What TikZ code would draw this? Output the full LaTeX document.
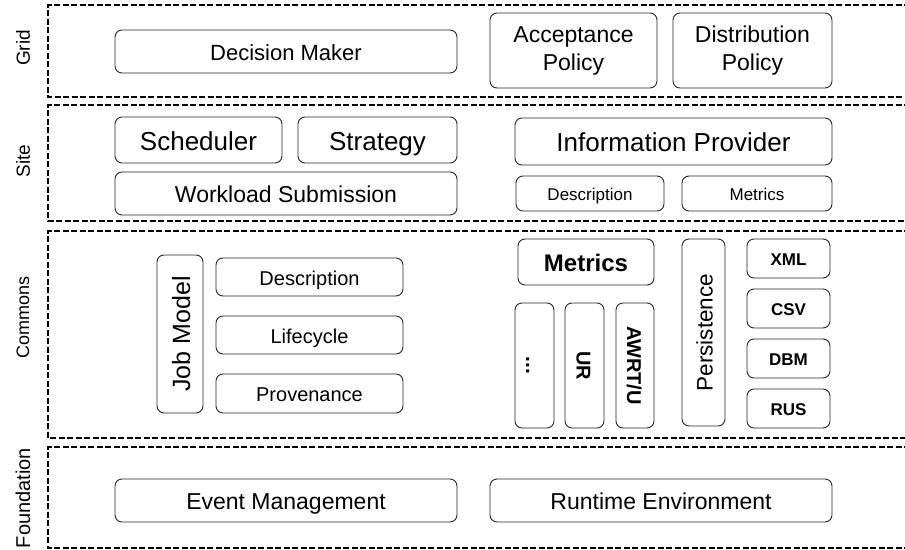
\documentclass[tikz,border=0pt]{standalone}
\usepackage{fontspec}
\setmainfont{Liberation Sans}
\newcommand{\fsz}[2]{\fontsize{#1}{#2}\selectfont}
\begin{document}
\begin{tikzpicture}[x=1pt,y=-1pt,
  basebox/.style={draw=black!85, line width=0.9pt, rounded corners=7pt,
    inner sep=0pt, outer sep=0pt, align=center},
  box/.style={basebox, text height=0.85em, text depth=0.05em},
  twoline/.style={basebox},
  layer/.style={draw=black, line width=1.4pt, dash pattern=on 6pt off 2.5pt},
  lbl/.style={rotate=90, inner sep=0pt}]
\useasboundingbox (0,0) rectangle (905,549);

% layer frames (open to the right)
\draw[layer] (910,5)   -| (48,97)  -- (910,97);
\draw[layer] (910,105) -| (48,221) -- (910,221);
\draw[layer] (910,231) -| (48,438) -- (910,438);
\draw[layer] (910,447) -| (48,548) -- (910,548);

% layer labels
\node[lbl, node font=\fsz{19}{23}] (lgrid)   at (23,48)  {Grid};
\node[lbl, node font=\fsz{19}{23}] (lsite)   at (23,161) {Site};
\node[lbl, node font=\fsz{18}{22}] (lcomm)   at (23,317) {Commons};
\node[lbl, node font=\fsz{20}{24}] (lfound)  at (23,498) {Foundation};

% Grid layer
\node[box, minimum width=342pt, minimum height=43pt, node font=\fsz{22}{26}] (dm) at (286,51.5) {Decision Maker};
\node[twoline, minimum width=167pt, minimum height=75pt, node font=\fsz{23}{28}] (acc) at (573.5,50.5) {Acceptance\\Policy};
\node[twoline, minimum width=159pt, minimum height=75pt, node font=\fsz{23}{28}] (dist) at (752.5,50.5) {Distribution\\Policy};

% Site layer
\node[box, minimum width=167pt, minimum height=46pt, node font=\fsz{26}{30}] (sched) at (198.5,140) {Scheduler};
\node[box, minimum width=159pt, minimum height=46pt, node font=\fsz{26}{30}] (strat) at (377.5,140) {Strategy};
\node[box, minimum width=342pt, minimum height=43pt, node font=\fsz{23}{28}] (wls) at (286,193.5) {Workload Submission};
\node[box, minimum width=317pt, minimum height=47pt, node font=\fsz{26}{30}] (info) at (673.5,141.5) {Information Provider};
\node[box, minimum width=148pt, minimum height=35pt, node font=\fsz{17}{20}] (sdesc) at (590,193.5) {Description};
\node[box, minimum width=150pt, minimum height=35pt, node font=\fsz{17}{20}] (smet) at (757,193.5) {Metrics};

% Commons layer: job model
\node[box, rotate=90, minimum width=158pt, minimum height=46pt, node font=\fsz{25}{30}] (job) at (180,334) {Job Model};
\node[box, minimum width=187pt, minimum height=38pt, node font=\fsz{20}{24}] (cdesc) at (309.5,277) {Description};
\node[box, minimum width=187pt, minimum height=38pt, node font=\fsz{20}{24}] (life) at (309.5,335) {Lifecycle};
\node[box, minimum width=187pt, minimum height=39pt, node font=\fsz{20}{24}] (prov) at (309.5,393.5) {Provenance};

% Commons layer: metrics
\node[box, minimum width=136pt, minimum height=46pt, node font=\fsz{24}{28}\bfseries] (cmet) at (586,262) {Metrics};
\node[box, rotate=-90, minimum width=125pt, minimum height=39pt, node font=\fsz{21}{25}\bfseries] (dots) at (534.5,365.5) {...};
\node[box, rotate=-90, minimum width=125pt, minimum height=39pt, node font=\fsz{20}{24}\bfseries] (ur) at (584.5,365.5) {UR};
\node[box, rotate=-90, minimum width=125pt, minimum height=38pt, node font=\fsz{20}{24}\bfseries] (awrt) at (635,365.5) {AWRT/U};

% Commons layer: persistence
\node[box, rotate=90, minimum width=187pt, minimum height=43pt, node font=\fsz{22.5}{27}] (pers) at (703.5,332.5) {Persistence};
\node[box, minimum width=83pt, minimum height=39pt, node font=\fsz{17}{20}\bfseries] (xml) at (788.5,258.5) {XML};
\node[box, minimum width=83pt, minimum height=39pt, node font=\fsz{17}{20}\bfseries] (csv) at (788.5,308.5) {CSV};
\node[box, minimum width=83pt, minimum height=39pt, node font=\fsz{17}{20}\bfseries] (dbm) at (788.5,358.5) {DBM};
\node[box, minimum width=83pt, minimum height=39pt, node font=\fsz{17}{20}\bfseries] (rus) at (788.5,408.5) {RUS};

% Foundation layer
\node[box, minimum width=342pt, minimum height=43pt, node font=\fsz{23}{28}] (evt) at (286,500.5) {Event Management};
\node[box, minimum width=342pt, minimum height=43pt, node font=\fsz{23}{28}] (rte) at (661,500.5) {Runtime Environment};
\end{tikzpicture}
\end{document}
